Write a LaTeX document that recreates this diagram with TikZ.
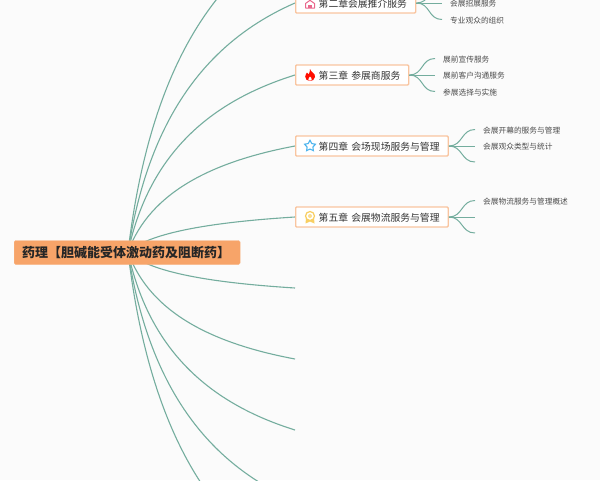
\documentclass[tikz,border=0pt]{standalone}
\usepackage{fontspec}
\newfontfamily\cjk{Noto Sans CJK SC}
\usetikzlibrary{positioning,backgrounds,shapes.geometric}
\definecolor{spinegreen}{HTML}{74AD9E}
\definecolor{rootfill}{HTML}{F7A469}
\definecolor{chapline}{HTML}{F9C5A0}
\definecolor{pagegray}{HTML}{FBFBFB}
\definecolor{housepink}{HTML}{E9688C}
\definecolor{starblue}{HTML}{4DB4EE}
\definecolor{medalgold}{HTML}{F8CF62}
\begin{document}
\begin{tikzpicture}[x=1pt,y=-1pt]
\tikzstyle{spine} = [draw=spinegreen, line width=1.1pt]
\tikzstyle{branch} = [draw=spinegreen, line width=1pt]
\tikzset{rootbox/.style={fill=rootfill, draw=rootfill!80!white, rounded corners=1.5pt, minimum height=24pt, inner xsep=0pt, inner ysep=0pt, text width=226pt, align=left, anchor=west, font=\cjk\fontsize{13}{13}\selectfont\bfseries, text=black!85}}
\tikzset{chapbox/.style={fill=white, draw=chapline, line width=1.4pt, rounded corners=1pt, minimum height=20pt, inner xsep=0pt, inner ysep=0pt, text height=9pt, text depth=0pt, text width=#1, align=left, anchor=west, font=\cjk\fontsize{9.8}{10}\selectfont, text=black!80}}
\tikzset{leaftext/.style={anchor=west, inner xsep=8pt, inner ysep=1pt, text height=7pt, text depth=0pt, font=\cjk\fontsize{7.7}{8}\selectfont, text=black!70}}
\useasboundingbox (0,0) rectangle (600,480);

\node[rootbox] (root) at (14,252.5) {\hspace*{8pt}药理【胆碱能受体激动药及阻断药】};
\coordinate (hub) at (128,252);

\node[chapbox=120pt] (ch2) at (295,3) {\hspace*{23pt}第二章会展推介服务};
\node[chapbox=113pt] (ch3) at (295,75) {\hspace*{23pt}第三章 参展商服务};
\node[chapbox=152.5pt] (ch4) at (295,146) {\hspace*{23pt}第四章 会场现场服务与管理};
\node[chapbox=152.5pt] (ch5) at (295,217) {\hspace*{23pt}第五章 会展物流服务与管理};

% ends of the branches with no box on them
\coordinate (ch1) at (295,-68);
\coordinate (ch6) at (295,288);
\coordinate (ch7) at (295,359);
\coordinate (ch8) at (295,430);
\coordinate (ch9) at (295,501);
\coordinate (ch10) at (295,572);

\coordinate (ch2a) at (442,-13);
\node[leaftext] (ch2b) at (442,3) {会展招展服务};
\node[leaftext] (ch2c) at (442,19.5) {专业观众的组织};
\node[leaftext] (ch3a) at (435,58.5) {展前宣传服务};
\node[leaftext] (ch3b) at (435,75) {展前客户沟通服务};
\node[leaftext] (ch3c) at (435,91.5) {参展选择与实施};
\node[leaftext] (ch4a) at (475,129.5) {会展开幕的服务与管理};
\node[leaftext] (ch4b) at (475,146) {会展观众类型与统计};
\coordinate (ch4c) at (475,162);
\node[leaftext] (ch5a) at (475,200.5) {会展物流服务与管理概述};
\coordinate (ch5b) at (475,217);
\coordinate (ch5c) at (475,233);

\begin{scope}[on background layer]
\fill[pagegray] (0,0) rectangle (600,480);
\draw[spine] (hub) .. controls (150,67) and (215,-23) .. (ch1);
\draw[spine] (hub) .. controls (150,108) and (215,38) .. (ch2.west);
\draw[spine] (hub) .. controls (150,149.5) and (215,100) .. (ch3.west);
\draw[spine] (hub) .. controls (150,191) and (215,161) .. (ch4.west);
\draw[spine] (hub) .. controls (150,232) and (215,222) .. (ch5.west);
\draw[spine] (hub) .. controls (150,273) and (215,283) .. (ch6);
\draw[spine] (hub) .. controls (150,314) and (215,344) .. (ch7);
\draw[spine] (hub) .. controls (150,355) and (215,405) .. (ch8);
\draw[spine] (hub) .. controls (150,396) and (215,466) .. (ch9);
\draw[spine] (hub) .. controls (150,437) and (215,527) .. (ch10);
\end{scope}

\draw[branch] (ch2.east) .. controls +(14,0) and +(-14,0) .. (ch2a);
\draw[branch] (ch2.east) -- (ch2b.west);
\draw[branch] (ch2.east) .. controls +(14,0) and +(-14,0) .. (ch2c.west);
\draw[branch] (ch3.east) .. controls +(14,0) and +(-14,0) .. (ch3a.west);
\draw[branch] (ch3.east) -- (ch3b.west);
\draw[branch] (ch3.east) .. controls +(14,0) and +(-14,0) .. (ch3c.west);
\draw[branch] (ch4.east) .. controls +(14,0) and +(-14,0) .. (ch4a.west);
\draw[branch] (ch4.east) -- (ch4b.west);
\draw[branch] (ch4.east) .. controls +(14,0) and +(-14,0) .. (ch4c);
\draw[branch] (ch5.east) .. controls +(14,0) and +(-14,0) .. (ch5a.west);
\draw[branch] (ch5.east) -- (ch5b);
\draw[branch] (ch5.east) .. controls +(14,0) and +(-14,0) .. (ch5c);

% icons in front of the chapter titles
\draw[draw=housepink, line width=1pt, fill=white, line join=round] (305.5,8) -- (305.5,3.5) -- (310,.3) -- (314.5,3.5) -- (314.5,8) -- cycle;
\fill[housepink] (308.4,8) rectangle (311.6,4.5);
\fill[red!90!orange] (310,69) .. controls (310.5,72) and (315.5,73) .. (315,77) .. controls (314.8,80) and (312,81) .. (310,81) .. controls (307,81) and (305,79) .. (305.2,76.5) .. controls (305.3,74.5) and (306.5,73.5) .. (307,72.5) .. controls (307.8,73.5) and (308,74) .. (308.5,74.5) .. controls (309.5,73) and (310.2,71) .. (310,69) -- cycle;
\fill[white] (310,76.5) .. controls (311,77.5) and (312,78.5) .. (311.7,79.8) .. controls (311,81) and (309,81) .. (308.4,79.8) .. controls (308,78.5) and (309.5,77.5) .. (310,76.5) -- cycle;
\node[star, star points=5, star point ratio=1.9, draw=starblue, line width=1.1pt, fill=white, inner sep=0pt, minimum size=11.5pt] (icon4) at (310,146) {};
\fill[medalgold] (306,218) -- (305.5,223.5) -- (310,221.5) -- (314.5,223.5) -- (314,218) -- cycle;
\node[circle, draw=medalgold, line width=1.2pt, fill=white, inner sep=0pt, minimum size=9pt] (icon5) at (310,216) {};
\node[circle, fill=medalgold!70, inner sep=0pt, minimum size=4pt] (icon5c) at (310,216) {};
\end{tikzpicture}
\end{document}
